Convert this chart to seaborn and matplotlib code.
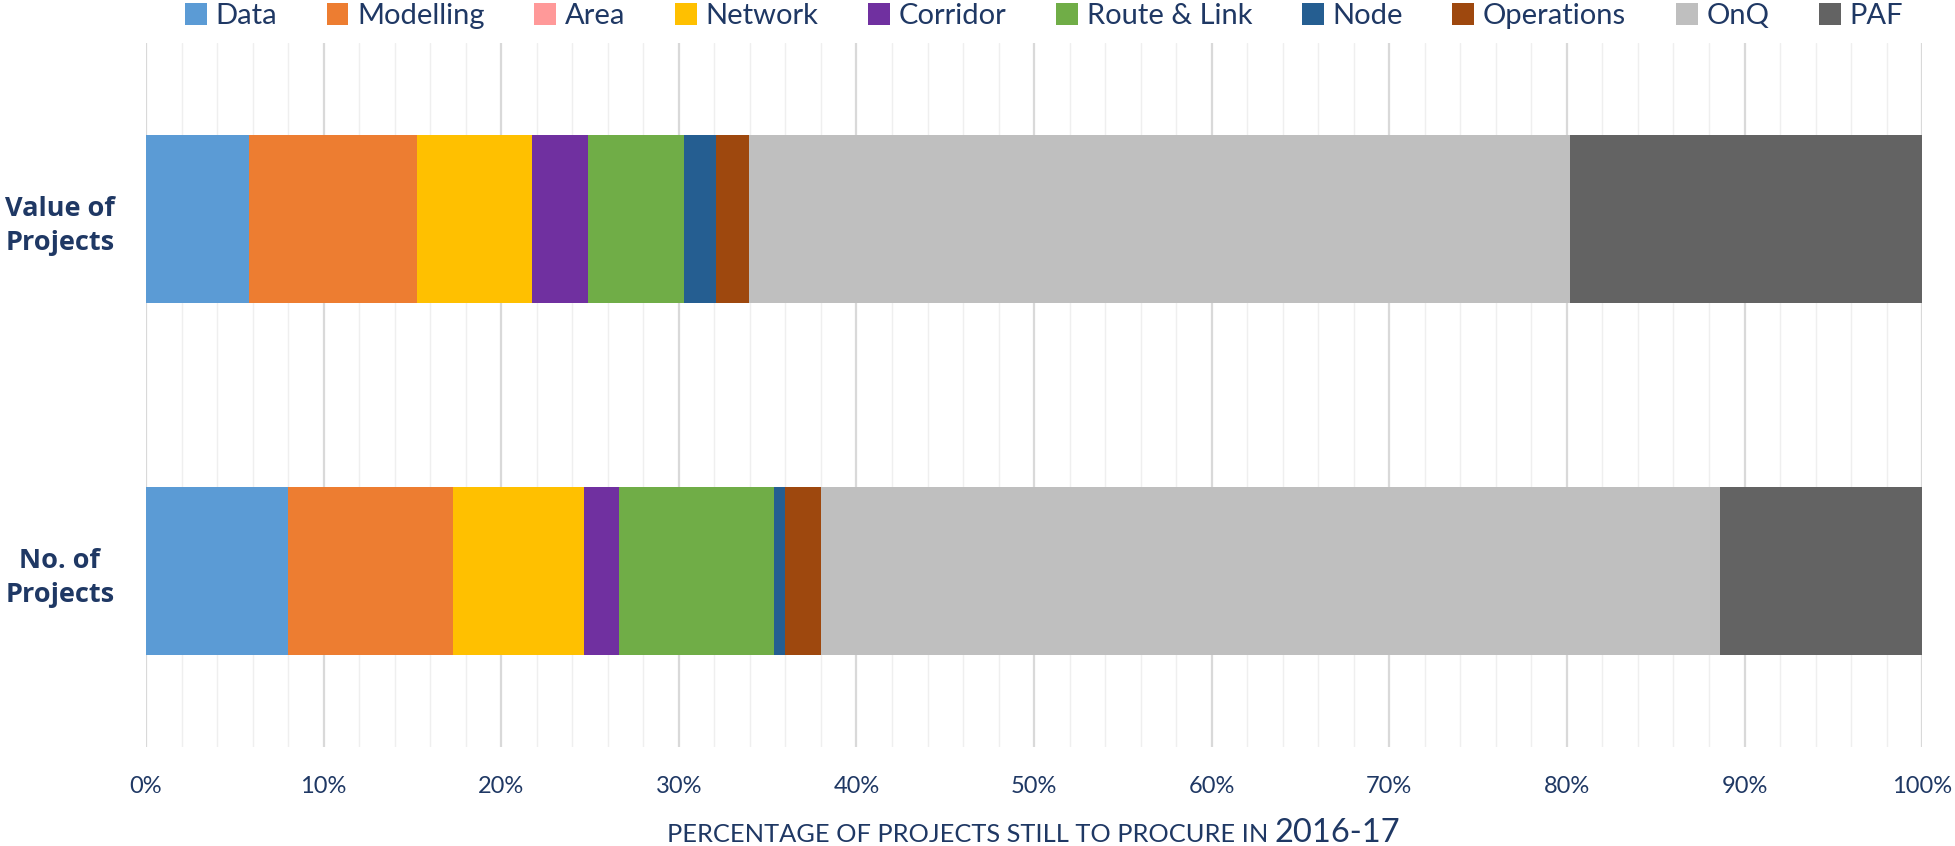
import numpy as np
import pandas as pd
import matplotlib
matplotlib.use("Agg")
import matplotlib.pyplot as plt
import seaborn as sns
from matplotlib.patches import Patch
from matplotlib.ticker import MultipleLocator, FuncFormatter

# ---------------- data ----------------
categories = ["Value of Projects", "No. of Projects"]
category_labels = ["Value of\nProjects", "No. of\nProjects"]
series = ["Data", "Modelling", "Area", "Network", "Corridor",
          "Route & Link", "Node", "Operations", "OnQ", "PAF"]
value_of_projects = [5.78, 9.47, 0.0, 6.46, 3.19, 5.38, 1.81, 1.85, 46.26, 19.80]
no_of_projects = [7.97, 9.32, 0.0, 7.36, 1.96, 8.72, 0.65, 2.01, 50.61, 11.40]
colors = ["#5B9BD5", "#ED7D31", "#FF9999", "#FFC000", "#7030A0",
          "#70AD47", "#255E91", "#9E480E", "#BFBFBF", "#636363"]

# long table with cumulative ends (stack drawn by overlaying)
rows = []
for cat, vals in zip(categories, [value_of_projects, no_of_projects]):
    cum = np.cumsum(vals)
    for s, c in zip(series, cum):
        rows.append({"measure": cat, "series": s, "cum": c})
df = pd.DataFrame(rows)

sns.set_theme(style="white")
plt.rcParams["font.family"] = ["Lato", "DejaVu Sans"]
navy = "#1F3864"

fig = plt.figure(figsize=(19.55, 8.46), dpi=100)
ax = fig.add_axes([0.0747, 0.117, 0.9085, 0.832])

palette = dict(zip(series, colors))
sns.barplot(data=df, y="measure", x="cum", hue="series",
            hue_order=series[::-1], order=categories, palette=palette,
            dodge=False, width=0.477, orient="h", ax=ax,
            legend=False, saturation=1, linewidth=0)

ax.set_xlim(0, 100)
ax.set_ylim(1.5, -0.5)
ax.xaxis.set_major_locator(MultipleLocator(10))
ax.xaxis.set_minor_locator(MultipleLocator(2))
ax.xaxis.set_major_formatter(FuncFormatter(lambda v, p: f"{v:.0f}%"))
ax.grid(False)
ax.grid(which="major", axis="x", color="#D9D9D9", linewidth=1.6)
ax.grid(which="minor", axis="x", color="#EFEFEF", linewidth=1.0)
ax.set_axisbelow(True)
for sp in ax.spines.values():
    sp.set_visible(False)
ax.tick_params(axis="both", which="both", length=0)
ax.tick_params(axis="x", labelsize=17, labelcolor=navy, pad=21)
ax.set_yticks(range(len(categories)))
ax.set_yticklabels(category_labels, fontsize=19.5, fontweight="bold",
                   color=navy, ha="center", family=["Open Sans", "DejaVu Sans"],
                   linespacing=1.4)
ax.tick_params(axis="y", pad=62)
ax.set_xlabel("")
ax.set_ylabel("")

# legend
handles = [Patch(facecolor=c, edgecolor="none") for c in colors]
fig.legend(handles, series, loc="center", bbox_to_anchor=(0.534, 0.981),
           ncol=len(series), frameon=False, fontsize=21, labelcolor=navy,
           handlelength=0.75, handleheight=0.75, handletextpad=0.3,
           columnspacing=1.7, borderaxespad=0)

# x-axis title in two sizes
fig.text(0.6486, 0.005, "PERCENTAGE OF PROJECTS STILL TO PROCURE IN",
         ha="right", va="baseline", fontsize=18.3, color=navy)
fig.text(0.652, 0.005, "2016-17", ha="left", va="baseline",
         fontsize=23.5, color=navy)

fig.savefig("out.png", dpi=100)
